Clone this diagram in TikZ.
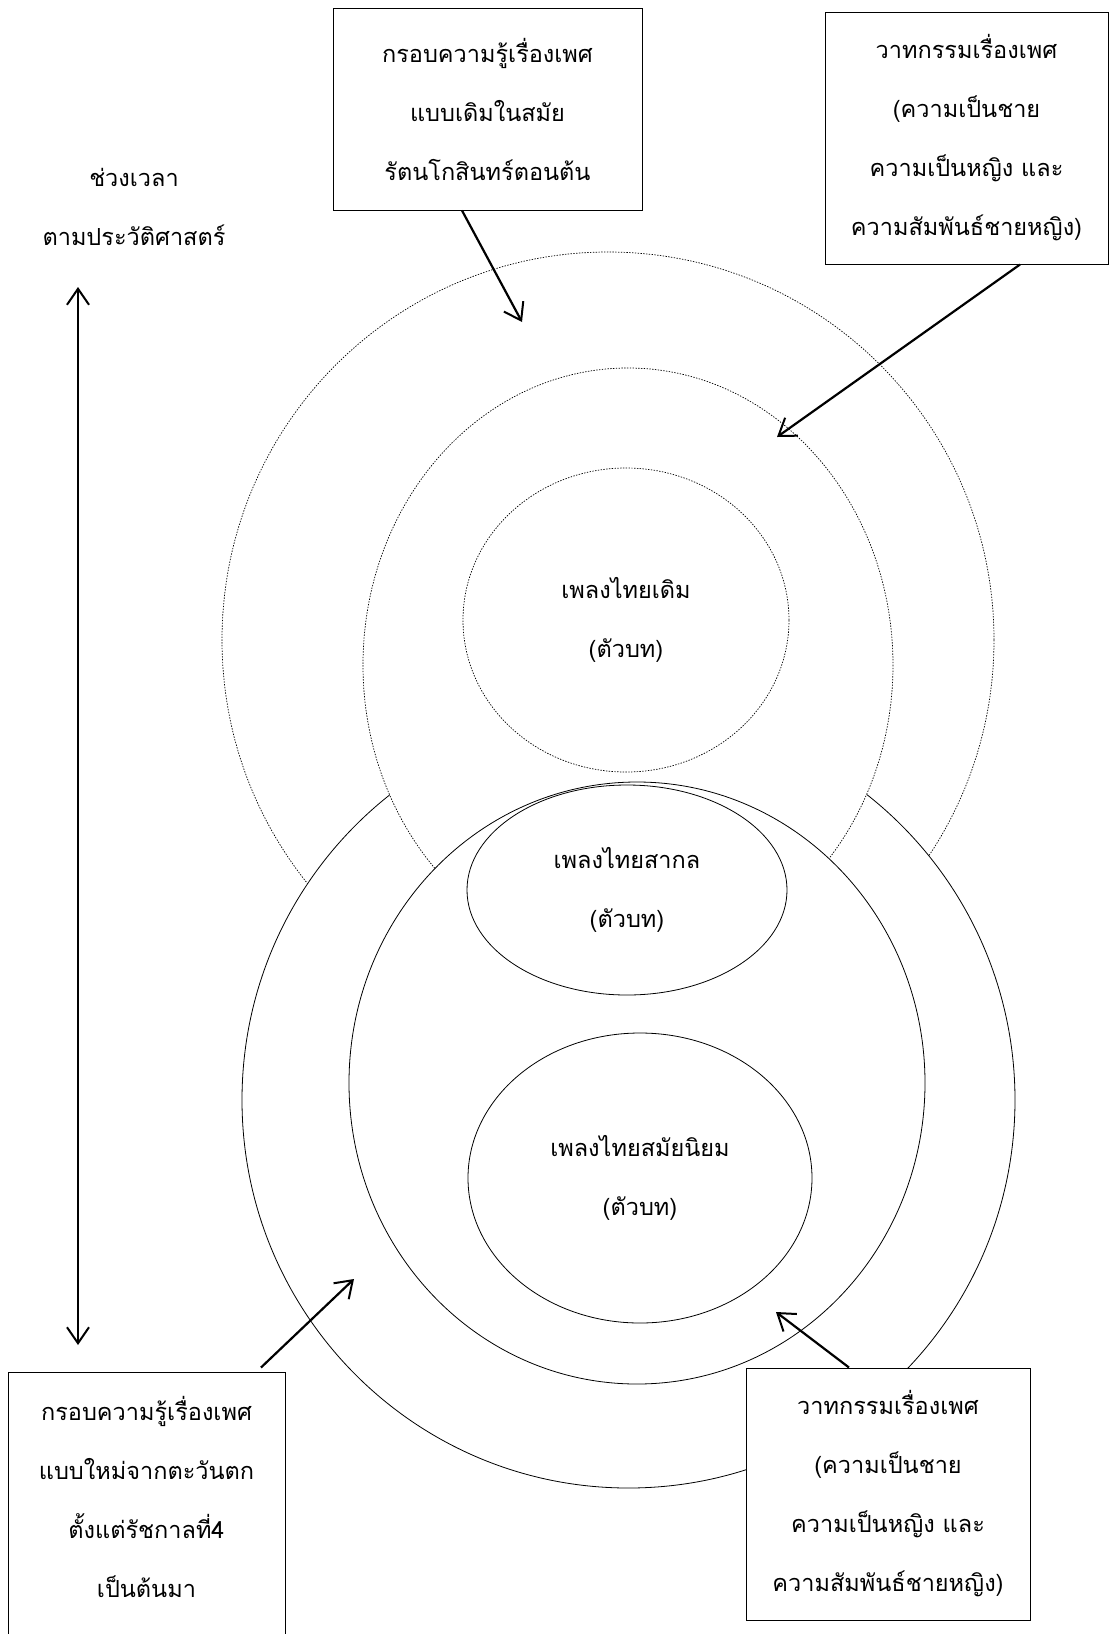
\documentclass[tikz,border=0pt]{standalone}
\usepackage{fontspec}
\newfontfamily\thai[Script=Thai]{Loma}
\usetikzlibrary{arrows.meta, shapes.geometric, positioning}
\tikzset{
  thaitext/.style={font=\thai\fontsize{23.5}{59}\selectfont, align=center},
  textbox/.style={thaitext, draw, fill=white, line width=1pt, inner sep=0pt},
  ring/.style={draw, line width=0.8pt},
  dotring/.style={draw, line width=0.7pt, dash pattern=on 1.4pt off 1.4pt},
  pointer/.style={line width=2.2pt, -{Straight Barb[length=16pt,width=22pt,line width=2pt]}},
}

\begin{document}
\begin{tikzpicture}[x=1pt, y=-1pt]
\useasboundingbox[fill=white] (0,0) rectangle (1109,1634);

\draw[dotring] (608,640) ellipse[x radius=386, y radius=388];
\draw[ring, fill=white] (628.5,1100) ellipse[x radius=386.5, y radius=388];
\draw[dotring, fill=white] (628,665) ellipse[x radius=265, y radius=297];
\draw[ring, fill=white] (637,1083) ellipse[x radius=288, y radius=301];

\node[dotring, ellipse, thaitext, inner sep=0pt, minimum width=326, minimum height=304] (classic) at (626,620) {เพลงไทยเดิม\\(ตัวบท)};
\node[ring, ellipse, thaitext, fill=white, inner sep=0pt, minimum width=320, minimum height=210] (universal) at (627,890) {เพลงไทยสากล\\(ตัวบท)};
\node[ring, ellipse, thaitext, fill=white, inner sep=0pt, minimum width=344, minimum height=290] (popular) at (640,1178) {เพลงไทยสมัยนิยม\\(ตัวบท)};

\node[textbox, minimum width=309, minimum height=202] (oldframe) at (487.5,109) {กรอบความรู้เรื่องเพศ\\แบบเดิมในสมัย\\รัตนโกสินทร์ตอนต้น};
\node[textbox, minimum width=283, minimum height=252] (discourse) at (966.5,138) {วาทกรรมเรื่องเพศ\\(ความเป็นชาย\\ความเป็นหญิง และ\\ความสัมพันธ์ชายหญิง)};
\node[textbox, minimum width=277, minimum height=308] (newframe) at (146.5,1526) {กรอบความรู้เรื่องเพศ\\แบบใหม่จากตะวันตก\\ตั้งแต่รัชกาลที่4\\เป็นต้นมา\\~};
\node[textbox, minimum width=284, minimum height=252] (newdiscourse) at (888,1494) {วาทกรรมเรื่องเพศ\\(ความเป็นชาย\\ความเป็นหญิง และ\\ความสัมพันธ์ชายหญิง)};

\node[thaitext] (period) at (134,207) {ช่วงเวลา\\ตามประวัติศาสตร์};
\coordinate (past) at (78,287);
\coordinate (present) at (78,1345);
\draw[line width=2.2pt, {Straight Barb[length=16pt,width=22pt,line width=2pt]}-{Straight Barb[length=16pt,width=22pt,line width=2pt]}] (past) -- (present);

\coordinate (oldtip) at (522,322);
\coordinate (discoursetip) at (777,437);
\coordinate (newtip) at (354,1279);
\coordinate (newdiscoursetip) at (776,1312);
\draw[pointer] ([xshift=-25.5pt]oldframe.south) -- (oldtip);
\draw[pointer] ([xshift=53.5pt]discourse.south) -- (discoursetip);
\draw[pointer] ([xshift=114.5pt,yshift=4pt]newframe.north) -- (newtip);
\draw[pointer] ([xshift=-39pt]newdiscourse.north) -- (newdiscoursetip);
\end{tikzpicture}
\end{document}
